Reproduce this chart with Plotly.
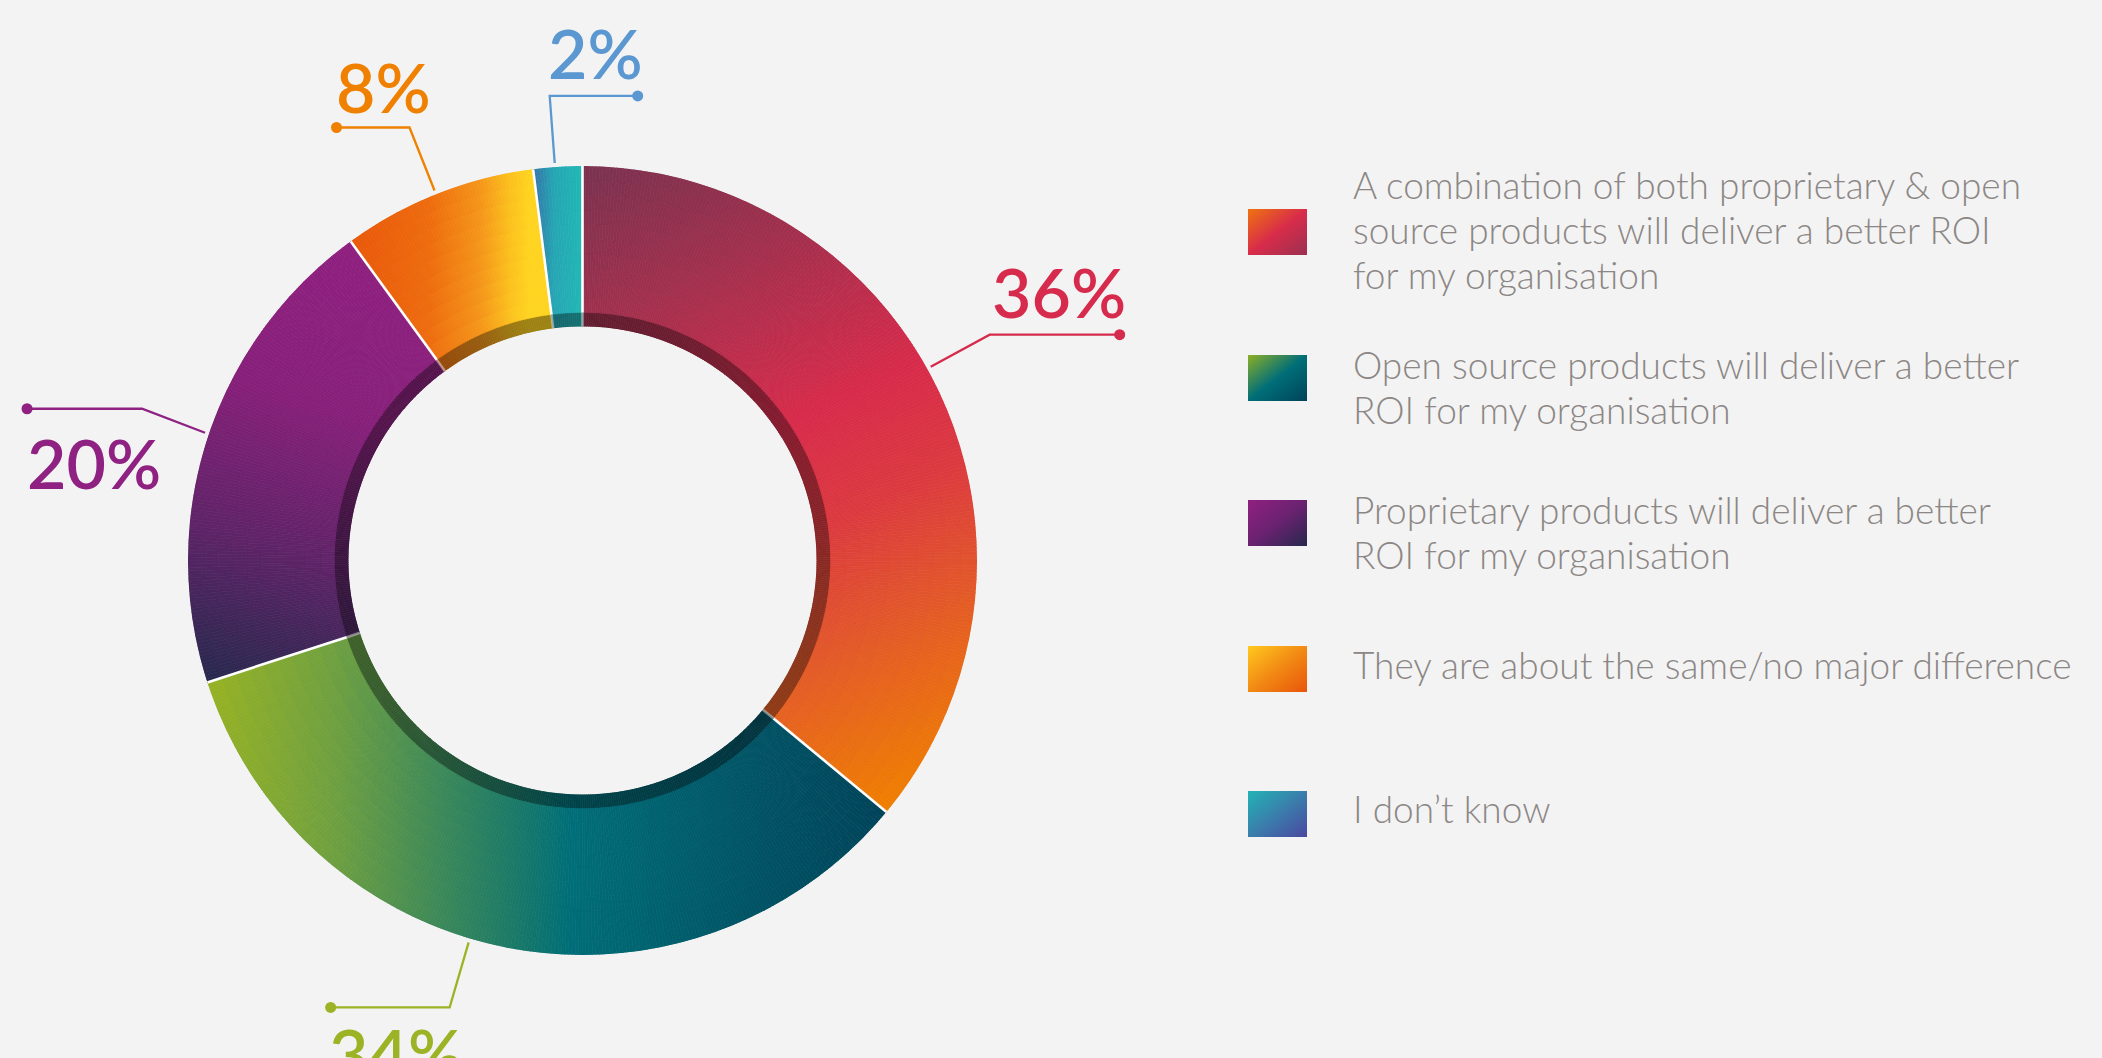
import math
import plotly.graph_objects as go

# ---------------- data ----------------
categories = [
    "A combination of both proprietary & open source products will deliver a better ROI for my organisation",
    "Open source products will deliver a better ROI for my organisation",
    "Proprietary products will deliver a better ROI for my organisation",
    "They are about the same/no major difference",
    "I don’t know",
]
legend_lines = [
    ["A combination of both proprietary & open",
     "source products will deliver a better ROI",
     "for my organisation"],
    ["Open source products will deliver a better",
     "ROI for my organisation"],
    ["Proprietary products will deliver a better",
     "ROI for my organisation"],
    ["They are about the same/no major difference"],
    ["I don’t know"],
]
shares = [36, 34, 20, 8, 2]
pct_labels = ["36%", "34%", "20%", "8%", "2%"]
label_colors = ["#d62b4c", "#9bb324", "#8e2182", "#ef8000", "#5b97d0"]

# ---------------- styling ----------------
W, H = 2102, 1058
BG = "#f3f3f3"
CX, CY = 582.5, 560.5          # donut centre (px)
R_OUT, R_IN, SHADOW = 394.5, 234.0, 14.0
RING = R_OUT - R_IN
SHADOW_U = SHADOW / RING        # inner shaded band, in radial-axis units
DARKEN = 0.62

# linear gradient per slice: start point, end point (px, y down), colour stops
slice_gradients = [
    dict(p0=(583, 166), p1=(890, 810),
         stops=[(0, "#7a3350"), (0.2, "#a0304e"), (0.45, "#d82b4b"),
                (0.6, "#dc3a40"), (0.75, "#e2562c"), (1, "#f08000")]),
    dict(p0=(200, 700), p1=(880, 700),
         stops=[(0, "#9ab422"), (0.196, "#6fa040"), (0.346, "#3f8a58"),
                (0.46, "#1b7a68"), (0.544, "#006e78"), (0.794, "#005566"),
                (1, "#00445a")]),
    dict(p0=(340, 230), p1=(190, 700),
         stops=[(0, "#902080"), (0.35, "#87207a"), (0.65, "#602468"),
                (1, "#1f2a4a")]),
    dict(p0=(340, 200), p1=(530, 200),
         stops=[(0, "#e8550a"), (0.47, "#ee6c0e"), (0.74, "#f5961a"),
                (0.9, "#fcc21e"), (1, "#ffd420")]),
    dict(p0=(528, 200), p1=(580, 200),
         stops=[(0, "#3a68a8"), (0.5, "#26a6b4"), (1, "#22b6b5")]),
]

# legend swatch gradients (top-left -> bottom-right)
swatch_stops = [
    [(0, "#ef7210"), (0.5, "#d82c4a"), (1, "#9c3050")],
    [(0, "#8aae28"), (0.5, "#006e78"), (1, "#00435a")],
    [(0, "#902080"), (0.5, "#6a2270"), (1, "#28284e")],
    [(0, "#ffc81e"), (0.5, "#f28a14"), (1, "#e8560a")],
    [(0, "#22b2b5"), (0.5, "#3a7eac"), (1, "#4a48a0")],
]

# leader line layout per label
angle_nudge = [-3.9, 5.8, 0.7, -0.2, -0.4]
elbow_offset = [(59, -32), (-19, 65), (-63, -24), (-25, -63), (-5, -67)]
arm_length = [130, -119, -115, -73, 88]
text_anchor = ["right", "left", "left", "left", "right"]
text_offset = [(7, -43), (-3, 45.5), (-1, 54), (-2, -41), (6, -43.5)]

LEG_X0, LEG_W, LEG_H = 1248, 59, 46
LEG_TOPS = [209, 355, 500, 646, 791]
LEG_TEXT_X = 1352
LEG_FIRST_LINE_Y = [184.7, 364.7, 509.7, 664.7, 808.7]   # centre of first line
LEG_LINE_STEP = 45
LEG_FONT = 37


# ---------------- helpers ----------------
def hex_rgb(h):
    h = h.lstrip("#")
    return tuple(int(h[i:i + 2], 16) for i in (0, 2, 4))


def ramp(stops, t):
    t = min(1.0, max(0.0, t))
    for (t0, c0), (t1, c1) in zip(stops[:-1], stops[1:]):
        if t <= t1:
            f = 0 if t1 == t0 else (t - t0) / (t1 - t0)
            a, b = hex_rgb(c0), hex_rgb(c1)
            return tuple(a[i] + (b[i] - a[i]) * f for i in range(3))
    return hex_rgb(stops[-1][1])


def grad_color(g, x, y):
    (x0, y0), (x1, y1) = g["p0"], g["p1"]
    dx, dy = x1 - x0, y1 - y0
    t = ((x - x0) * dx + (y - y0) * dy) / (dx * dx + dy * dy)
    return ramp(g["stops"], t)


def css(rgb, k=1.0):
    return "rgb({},{},{})".format(*(int(round(c * k)) for c in rgb))


def polar_px(theta_deg, rad_px):
    a = math.radians(theta_deg)
    return CX + rad_px * math.sin(a), CY - rad_px * math.cos(a)


# ---------------- slice geometry from the data ----------------
total = float(sum(shares))
bounds = [0.0]
for v in shares:
    bounds.append(bounds[-1] + v / total * 360.0)

bar_theta, bar_width, bar_base, bar_r, bar_col = [], [], [], [], []
N_RAD = 10
STEP = 0.5
for k in range(len(shares)):
    a0, a1 = bounds[k], bounds[k + 1]
    n = max(2, math.ceil((a1 - a0) / STEP))
    w = (a1 - a0) / n
    g = slice_gradients[k]
    for i in range(n):
        th = a0 + (i + 0.5) * w
        # shaded inner band
        px, py = polar_px(th, R_IN + SHADOW / 2)
        bar_theta.append(th); bar_width.append(w)
        bar_base.append(0.0); bar_r.append(SHADOW_U)
        bar_col.append(css(grad_color(g, px, py), DARKEN))
        dr = (1 - SHADOW_U) / N_RAD
        for j in range(N_RAD):
            b = SHADOW_U + j * dr
            px, py = polar_px(th, R_IN + (b + dr / 2) * RING)
            bar_theta.append(th); bar_width.append(w)
            bar_base.append(b); bar_r.append(dr)
            bar_col.append(css(grad_color(g, px, py)))

fig = go.Figure()

fig.add_trace(go.Barpolar(
    theta=bar_theta, r=bar_r, base=bar_base, width=bar_width,
    marker=dict(color=bar_col, line=dict(color=bar_col, width=0.7)),
    hoverinfo="skip", showlegend=False,
))

# white separators between slices
for b in bounds[:-1]:
    fig.add_trace(go.Scatterpolar(
        theta=[b, b], r=[SHADOW_U, 1.0], mode="lines",
        line=dict(color="white", width=2.6), hoverinfo="skip", showlegend=False))
    fig.add_trace(go.Scatterpolar(
        theta=[b, b], r=[0.0, SHADOW_U], mode="lines",
        line=dict(color="rgba(255,255,255,0.45)", width=2.6),
        hoverinfo="skip", showlegend=False))

annotations = []

# leader lines, end dots and percentage labels
for k in range(len(shares)):
    mid = (bounds[k] + bounds[k + 1]) / 2 + angle_nudge[k]
    sx, sy = polar_px(mid, R_OUT + 4)
    ex, ey = sx + elbow_offset[k][0], sy + elbow_offset[k][1]
    dx, dy = ex + arm_length[k], ey
    fig.add_trace(go.Scatter(
        x=[sx, ex, dx], y=[sy, ey, dy], mode="lines",
        line=dict(color=label_colors[k], width=2.3),
        hoverinfo="skip", showlegend=False, xaxis="x", yaxis="y"))
    fig.add_trace(go.Scatter(
        x=[dx], y=[dy], mode="markers",
        marker=dict(color=label_colors[k], size=11),
        hoverinfo="skip", showlegend=False, xaxis="x", yaxis="y"))
    annotations.append(dict(
        x=dx + text_offset[k][0], y=dy + text_offset[k][1],
        xref="x", yref="y", text=pct_labels[k], showarrow=False,
        xanchor=text_anchor[k], yanchor="middle", borderpad=0,
        font=dict(family="Lato", size=68, weight=600, color=label_colors[k])))

# legend swatches and texts
for k in range(len(categories)):
    stops = swatch_stops[k]
    z = []
    for j in range(LEG_H):
        row = []
        for i in range(LEG_W):
            t = (i / (LEG_W - 1) + j / (LEG_H - 1)) / 2
            row.append([int(round(c)) for c in ramp(stops, t)])
        z.append(row)
    fig.add_trace(go.Image(
        z=z, x0=LEG_X0 + 0.5, y0=LEG_TOPS[k] + 0.5, dx=1, dy=1,
        hoverinfo="skip", xaxis="x", yaxis="y", name=categories[k]))
    for li, line in enumerate(legend_lines[k]):
        annotations.append(dict(
            x=LEG_TEXT_X, y=LEG_FIRST_LINE_Y[k] + li * LEG_LINE_STEP,
            xref="x", yref="y", text=line, showarrow=False, align="left",
            xanchor="left", yanchor="middle", borderpad=0,
            font=dict(family="Lato", size=LEG_FONT, weight=300, color="#8c8785")))

fig.update_layout(
    width=W, height=H,
    margin=dict(l=0, r=0, t=0, b=0),
    paper_bgcolor=BG, plot_bgcolor="rgba(0,0,0,0)",
    showlegend=False,
    xaxis=dict(range=[0, W], domain=[0, 1], visible=False, fixedrange=True),
    yaxis=dict(range=[H, 0], domain=[0, 1], visible=False, fixedrange=True),
    polar=dict(
        domain=dict(x=[(CX - R_OUT) / W, (CX + R_OUT) / W],
                    y=[(H - CY - R_OUT) / H, (H - CY + R_OUT) / H]),
        hole=R_IN / R_OUT,
        bgcolor="rgba(0,0,0,0)",
        bargap=0,
        radialaxis=dict(range=[0, 1], visible=False),
        angularaxis=dict(rotation=90, direction="clockwise", visible=False),
    ),
    annotations=annotations,
)

fig.write_html("out.html")
